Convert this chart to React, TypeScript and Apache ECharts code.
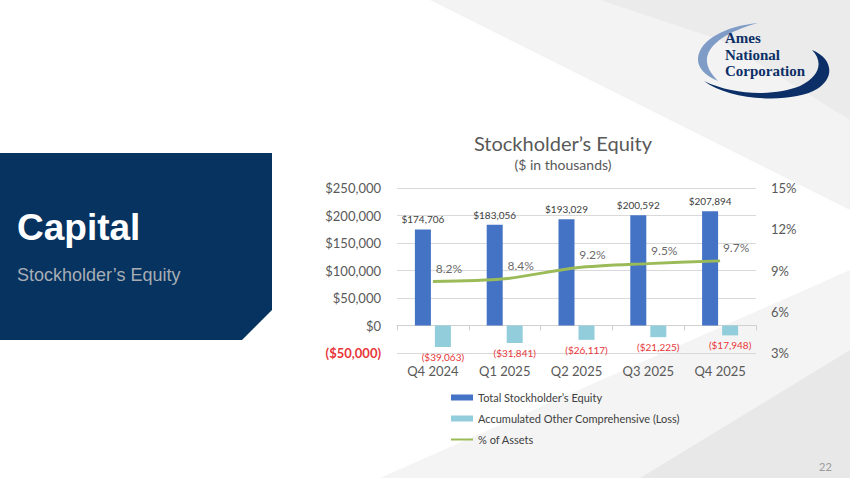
import React, { useEffect, useRef } from "react";
import * as echarts from "echarts";

const categories = ["Q4 2024", "Q1 2025", "Q2 2025", "Q3 2025", "Q4 2025"];
const totalEquity = [174706, 183056, 193029, 200592, 207894];
const aociLoss = [-39063, -31841, -26117, -21225, -17948];
const pctOfAssets = [8.2, 8.4, 9.2, 9.5, 9.7];
const seriesNames = [
  "Total Stockholder\u2019s Equity",
  "Accumulated Other Comprehensive (Loss)",
  "% of Assets",
];

const fmtMoney = (v: number) =>
  v < 0
    ? `($${Math.abs(v).toLocaleString("en-US")})`
    : `$${v.toLocaleString("en-US")}`;

echarts.graphic.registerShape(
  "amesSwooshDark",
  echarts.graphic.extendPath(
    "M 704 81 C 730 101 792 104 817 89 C 836 77 832 58 812 50 C 823 61 821 76 800 86 C 775 96 735 96 704 81 Z",
    {}
  )
);
echarts.graphic.registerShape(
  "amesArcLight",
  echarts.graphic.extendPath(
    "M 758 23 C 725 26 700 40 698 58 C 697 68 706 76 718 81 C 711 74 706 66 707 58 C 709 44 728 31 758 23 Z",
    {}
  )
);

export default function App() {
  const ref = useRef<HTMLDivElement>(null);
  useEffect(() => {
    if (!ref.current) return;
    const chart = echarts.init(ref.current, null, { renderer: "svg" });
    const font = "Lato, 'Open Sans', sans-serif";
    chart.setOption({
      animation: false,
      backgroundColor: "#ffffff",
      textStyle: { fontFamily: font },
      title: {
        text: "Stockholder\u2019s Equity",
        subtext: "($ in thousands)",
        left: 558,
        top: 128,
        textAlign: "center",
        itemGap: 4,
        textStyle: { fontSize: 20, color: "#595959", fontWeight: "normal", fontFamily: font },
        subtextStyle: { fontSize: 14, color: "#595959", fontFamily: font },
      },
      legend: {
        orient: "vertical",
        left: 450,
        top: 392,
        padding: 0,
        itemGap: 10,
        itemWidth: 22,
        itemHeight: 6,
        textStyle: { fontSize: 11, color: "#404040", fontFamily: font },
        data: [
          { name: seriesNames[0], icon: "rect" },
          { name: seriesNames[1], icon: "rect" },
          { name: seriesNames[2], itemStyle: { opacity: 0 } },
        ],
      },
      grid: { left: 397, right: 94, top: 188, bottom: 125 },
      xAxis: {
        type: "category",
        data: categories,
        axisLine: { show: true, lineStyle: { color: "#d0d0d0" } },
        axisTick: { show: true, length: 5, lineStyle: { color: "#d0d0d0" } },
        axisLabel: { margin: 11, fontSize: 13, color: "#595959", fontFamily: font },
      },
      yAxis: [
        {
          type: "value",
          min: -50000,
          max: 250000,
          interval: 50000,
          axisLine: { show: false },
          axisTick: { show: false },
          splitLine: { lineStyle: { color: "#d9d9d9" } },
          axisLabel: {
            margin: 16,
            fontSize: 13,
            color: "#595959",
            fontFamily: font,
            formatter: (v: number) => (v < 0 ? `{neg|${fmtMoney(v)}}` : fmtMoney(v)),
            rich: { neg: { color: "#e8363a", fontSize: 13, fontWeight: "bold", fontFamily: font } },
          },
        },
        {
          type: "value",
          min: 3,
          max: 15,
          interval: 3,
          axisLine: { show: false },
          axisTick: { show: false },
          splitLine: { show: false },
          axisLabel: { margin: 15, fontSize: 13, color: "#595959", formatter: "{value}%", fontFamily: font },
        },
      ],
      series: [
        {
          name: seriesNames[0],
          type: "bar",
          data: totalEquity,
          barWidth: 16,
          barGap: "25%",
          itemStyle: { color: "#4472c4" },
          label: {
            show: true,
            position: "top",
            distance: 5,
            fontSize: 10,
            color: "#404040",
            fontFamily: font,
            formatter: (p: any) => fmtMoney(p.value),
          },
        },
        {
          name: seriesNames[1],
          type: "bar",
          data: aociLoss,
          barWidth: 16,
          itemStyle: { color: "#92cddc" },
          label: {
            show: true,
            position: "bottom",
            distance: 5,
            fontSize: 10,
            color: "#e8363a",
            fontFamily: font,
            formatter: (p: any) => fmtMoney(p.value),
          },
        },
        {
          name: seriesNames[2],
          type: "line",
          yAxisIndex: 1,
          data: pctOfAssets,
          smooth: 0.3,
          symbol: "none",
          lineStyle: { color: "#9bbb59", width: 3 },
          itemStyle: { color: "#9bbb59" },
          z: 5,
        },
        {
          name: "pctLabels",
          type: "scatter",
          yAxisIndex: 1,
          data: pctOfAssets,
          symbolSize: 1,
          itemStyle: { color: "rgba(0,0,0,0)" },
          silent: true,
          label: {
            show: true,
            position: "top",
            distance: 5,
            offset: [16, -2],
            fontSize: 12,
            color: "#404040",
            fontFamily: font,
            formatter: (p: any) => `${p.value}%`,
          },
          z: 6,
        },
      ],
      graphic: [
        {
          type: "polygon",
          z: -10,
          silent: true,
          shape: { points: [[430, 0], [850, 0], [850, 210]] },
          style: { fill: "#f3f3f3" },
        },
        {
          type: "polygon",
          z: -10,
          silent: true,
          shape: { points: [[600, 0], [850, 0], [850, 120], [720, 40]] },
          style: { fill: "#ebebeb" },
        },
        {
          type: "polygon",
          z: -10,
          silent: true,
          shape: { points: [[380, 478], [850, 270], [850, 478]] },
          style: { fill: "#f4f4f4" },
        },
        {
          type: "polygon",
          z: -10,
          silent: true,
          shape: { points: [[640, 478], [850, 350], [850, 478]] },
          style: { fill: "#e8e8e8" },
        },
        {
          type: "polygon",
          z: 1,
          silent: true,
          shape: { points: [[0, 153], [272, 153], [272, 310], [242, 340], [0, 340]] },
          style: { fill: "#06335f" },
        },
        {
          type: "text",
          z: 2,
          left: 17,
          top: 209,
          style: {
            text: "Capital",
            fill: "#ffffff",
            fontSize: 37,
            fontWeight: "bold",
            fontFamily: "'Liberation Sans', Arial, sans-serif",
          },
        },
        {
          type: "text",
          z: 2,
          left: 17,
          top: 266,
          style: {
            text: "Stockholder\u2019s Equity",
            fill: "#a8adb5",
            fontSize: 18,
            fontFamily: "'Liberation Sans', Arial, sans-serif",
          },
        },
        { type: "amesArcLight", z: 10, x: 0, y: 0, silent: true, style: { fill: "#7f9cc6" } },
        { type: "amesSwooshDark", z: 10, x: 0, y: 0, silent: true, style: { fill: "#0b2f66" } },
        {
          type: "text",
          z: 11,
          left: 725,
          top: 30,
          style: {
            text: "Ames\nNational\nCorporation",
            fill: "#0b2f66",
            fontSize: 15,
            lineHeight: 16.5,
            fontWeight: "bold",
            fontFamily: "'Liberation Serif', 'DejaVu Serif', serif",
          },
        },
        {
          type: "text",
          z: 2,
          left: 819,
          top: 461,
          style: { text: "22", fill: "#9a9a9a", fontSize: 11, fontFamily: font },
        },
      ],
    });
    return () => chart.dispose();
  }, []);
  return (
    <div
      ref={ref}
      style={{ position: "fixed", left: 0, top: 0, width: 850, height: 478 }}
    />
  );
}
